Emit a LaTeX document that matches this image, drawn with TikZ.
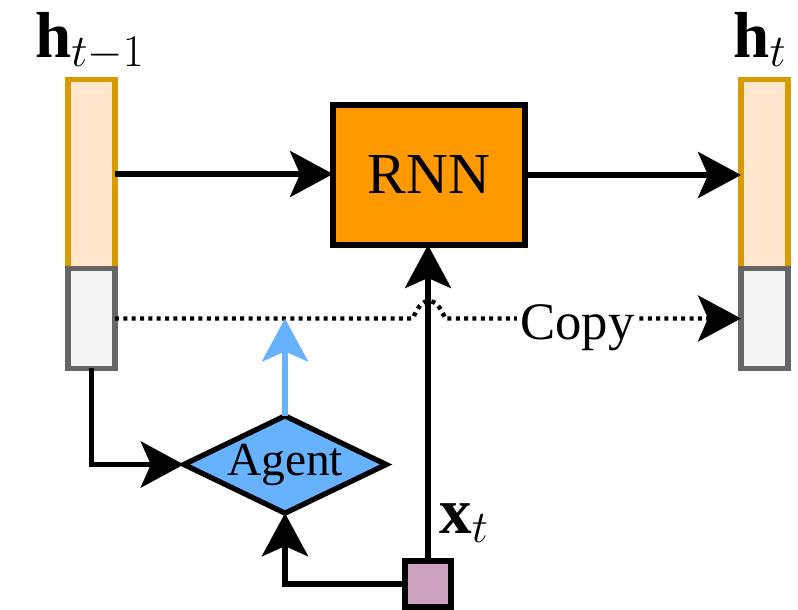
\RequirePackage{fix-cm}
\documentclass[tikz,border=0pt]{standalone}
\usepackage{fontspec}
\setmainfont{Liberation Serif}
\usepackage{tikz}
\usetikzlibrary{arrows.meta,positioning,calc,shapes.geometric}
\definecolor{hgold}{HTML}{D79B00}
\definecolor{hpeach}{HTML}{FFE6CC}
\definecolor{mgray}{HTML}{666666}
\definecolor{mlight}{HTML}{F5F5F5}
\definecolor{rnnorange}{HTML}{FF9900}
\definecolor{agentblue}{HTML}{66B2FF}
\definecolor{xpink}{HTML}{CDA2BE}
\tikzset{
  state/.style={draw=hgold, fill=hpeach, line width=3pt, inner sep=0pt, outer sep=0pt,
                minimum width=0.94cm, minimum height=3.78cm},
  mem/.style={state, draw=mgray, fill=mlight, minimum height=2cm},
  cell/.style={draw=black, fill=rnnorange, line width=3pt, inner sep=0pt, outer sep=0pt,
               minimum width=3.84cm, minimum height=2.8cm, font=\fontsize{33}{40}\selectfont},
  agentbox/.style={diamond, aspect=2.08, draw=black, fill=agentblue, line width=3pt,
                   inner sep=0pt, outer sep=0pt, minimum width=3.88cm, minimum height=1.86cm,
                   font=\fontsize{27}{32}\selectfont},
  inbox/.style={draw=black, fill=xpink, line width=3pt, minimum size=0.92cm,
                inner sep=0pt, outer sep=0pt},
  flow/.style={-{Stealth[length=0.86cm, width=0.92cm, inset=0.2cm]}, draw=black, line width=3.3pt},
  ctrl/.style={flow, draw=agentblue},
  copyline/.style={flow, line width=2.5pt, dash pattern=on 0.08cm off 0.087cm},
  lbl/.style={font=\fontsize{37}{44}\selectfont, inner sep=0pt, anchor=base},
  clbl/.style={font=\fontsize{30}{36}\selectfont, fill=white, inner xsep=2pt, inner ysep=0pt,
               anchor=base, yshift=-0.42cm},
}
\begin{document}
\begin{tikzpicture}[x=0.02cm, y=-0.02cm]
  \useasboundingbox (0,0) rectangle (798,609);

  % hidden state at t-1 and at t
  \node[state] (hprevtop) at (91.5,174) {};
  \node[mem, below=0pt of hprevtop] (hprevmem) {};
  \node[state] (hnowtop) at (764.5,174) {};
  \node[mem, below=0pt of hnowtop] (hnowmem) {};
  \node[lbl] (hprevlbl) at (90,57) {$\mathbf{h}_{t-1}$};
  \node[lbl] (hnowlbl) at (760,57) {$\mathbf{h}_{t}$};

  \node[cell] (rnn) at (429,175) {RNN};
  \node[agentbox] (agent) at (285,464.5) {Agent};
  \node[inbox] (xin) at (428,584) {};
  \node[lbl] (xlbl) at (464,533) {$\mathbf{x}_{t}$};

  \coordinate (hopa) at ($(xin.north |- hprevmem.east)+(-15,0)$);
  \coordinate (hopb) at ($(xin.north |- hprevmem.east)+(17,0)$);

  \draw[copyline] (hprevmem.east) -- (hopa) to[out=70, in=110, looseness=2] (hopb)
    -- node[clbl, pos=0.447] {Copy} (hnowmem.west);
  \draw[flow] (hprevtop.east) -- (hprevtop.east -| rnn.west);
  \draw[flow] (rnn.east) -- (rnn.east -| hnowtop.west);
  \draw[flow] (xin.north) -- (xin.north |- rnn.south);
  \draw[flow] (hprevmem.south) |- (agent.west);
  \draw[flow] (xin.west) -| (agent.south);
  \draw[ctrl] (agent.north) -- (agent.north |- hprevmem.east);
\end{tikzpicture}
\end{document}
